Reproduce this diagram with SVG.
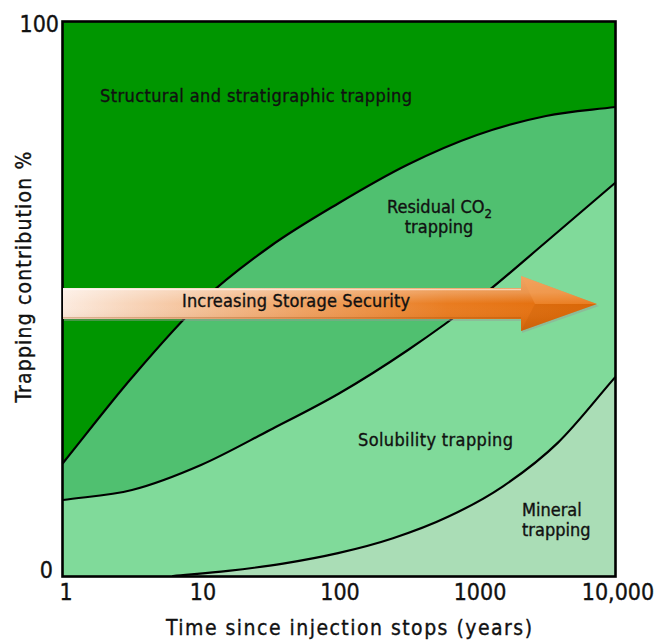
<svg xmlns="http://www.w3.org/2000/svg" width="655" height="641" viewBox="0 0 655 641">
  <style>
    .lbl { font-family: "DejaVu Sans Condensed", "DejaVu Sans", sans-serif; fill: #111; stroke: #111; stroke-width: 0.35; }
    .area-label { font-size: 18px; }
    .tick { font-size: 23px; }
    .title { font-size: 21px; }
    .boundary { fill: none; stroke: #000; stroke-width: 2.2; stroke-linecap: round; stroke-linejoin: round; }
  </style>
  <defs>
    <linearGradient id="arrowFill" x1="63" y1="0" x2="597" y2="0" gradientUnits="userSpaceOnUse">
      <stop offset="0" stop-color="#fcebdf"/>
      <stop offset="0.12" stop-color="#f8d6bc"/>
      <stop offset="0.45" stop-color="#f0a262"/>
      <stop offset="0.72" stop-color="#e97c20"/>
      <stop offset="1" stop-color="#e26a06"/>
    </linearGradient>
    <linearGradient id="arrowBevel" x1="0" y1="276" x2="0" y2="331" gradientUnits="userSpaceOnUse">
      <stop offset="0" stop-color="#fff" stop-opacity="0.35"/>
      <stop offset="0.3" stop-color="#fff" stop-opacity="0.25"/>
      <stop offset="0.5" stop-color="#fff" stop-opacity="0"/>
      <stop offset="0.8" stop-color="#8a3d00" stop-opacity="0.08"/>
      <stop offset="1" stop-color="#8a3d00" stop-opacity="0.25"/>
    </linearGradient>
  </defs>

  <!-- stacked trapping areas -->
  <g id="region-structural">
    <rect x="63" y="22" width="552" height="554" fill="#009600"/>
  </g>
  <g id="region-residual">
    <path fill="#50c070" d="M63,463 C86,434.5 109,404.3 132,377.5 C155,350.7 178,323.8 201,302 C224,280.2 247,263 270,246.5 C293,230 316,216.7 339,203 C362,189.3 385,175.8 408,164.5 C431,153.2 454,143.1 477,135 C500,126.9 523,120.7 546,116 C569,111.3 592,110 615,107 L615,576 L63,576 Z"/>
  </g>
  <g id="region-solubility">
    <path fill="#80da9a" d="M63,500 C86,496.7 109,495.8 132,490 C155,484.2 178,475 201,465 C224,455 247,441.9 270,430 C293,418.1 316,406.8 339,393.5 C362,380.2 385,365.6 408,350 C431,334.4 454,318 477,300 C500,282 523,261.5 546,242 C569,222.5 592,202.7 615,183 L615,576 L63,576 Z"/>
  </g>
  <g id="region-mineral">
    <path fill="#aaddb6" d="M173,576 C191.3,574.3 209.7,573 228,570.9 C246.3,568.8 264.7,566.6 283,563.6 C301.3,560.6 319.7,557.3 338,553.1 C356.3,548.9 374.7,544.3 393,538.2 C411.3,532.2 429.7,525.5 448,516.8 C466.3,508.2 484.7,498.7 503,486.3 C521.3,473.9 539.3,460.8 558,442.6 C576.7,424.5 596,399.1 615,377.4 L615,576 Z"/>
  </g>

  <!-- boundary curves between the areas -->
  <g id="connectors">
    <path class="boundary" d="M63,463 C86,434.5 109,404.3 132,377.5 C155,350.7 178,323.8 201,302 C224,280.2 247,263 270,246.5 C293,230 316,216.7 339,203 C362,189.3 385,175.8 408,164.5 C431,153.2 454,143.1 477,135 C500,126.9 523,120.7 546,116 C569,111.3 592,110 615,107"/>
    <path class="boundary" d="M63,500 C86,496.7 109,495.8 132,490 C155,484.2 178,475 201,465 C224,455 247,441.9 270,430 C293,418.1 316,406.8 339,393.5 C362,380.2 385,365.6 408,350 C431,334.4 454,318 477,300 C500,282 523,261.5 546,242 C569,222.5 592,202.7 615,183"/>
    <path class="boundary" d="M173,576 C191.3,574.3 209.7,573 228,570.9 C246.3,568.8 264.7,566.6 283,563.6 C301.3,560.6 319.7,557.3 338,553.1 C356.3,548.9 374.7,544.3 393,538.2 C411.3,532.2 429.7,525.5 448,516.8 C466.3,508.2 484.7,498.7 503,486.3 C521.3,473.9 539.3,460.8 558,442.6 C576.7,424.5 596,399.1 615,377.4"/>
  </g>

  <!-- plot frame -->
  <g id="frame">
    <rect x="62.5" y="21.5" width="553" height="555" fill="none" stroke="#000" stroke-width="2.6"/>
  </g>

  <!-- area labels -->
  <g id="label-structural">
    <text class="lbl area-label" x="100" y="102" textLength="312">Structural and stratigraphic trapping</text>
  </g>
  <g id="label-residual">
    <text class="lbl area-label" x="387" y="213" font-size="17.5">Residual CO<tspan font-size="13" dy="5">2</tspan></text>
    <text class="lbl area-label" x="439" y="233" font-size="17.5" text-anchor="middle">trapping</text>
  </g>
  <g id="label-solubility">
    <text class="lbl area-label" x="358" y="446" textLength="155">Solubility trapping</text>
  </g>
  <g id="label-mineral">
    <text class="lbl area-label" x="522" y="516">Mineral</text>
    <text class="lbl area-label" x="522" y="536">trapping</text>
  </g>

  <!-- storage security arrow -->
  <g id="arrow-security">
    <path d="M64,290 L522,290 L522,278 L599,306 L522,333 L522,321 L64,321 Z" fill="#9a9a9a" opacity="0.45"/>
    <path d="M63,288 L521,288 L521,276 L597,304 L521,331 L521,319 L63,319 Z" fill="url(#arrowFill)"/>
    <path d="M63,288 L521,288 L521,276 L597,304 L521,331 L521,319 L63,319 Z" fill="url(#arrowBevel)"/>
    <path d="M63,289.5 L521,289.5" stroke="#fff" stroke-opacity="0.55" stroke-width="1.5"/>
    <path d="M63,317.8 L521,317.8" stroke="#a24b05" stroke-opacity="0.3" stroke-width="1.5"/>
    <path d="M521,276 L597,304 L535,304 Z" fill="#f8a455" opacity="0.35"/>
    <path d="M535,304 L597,304 L521,331 Z" fill="#b85400" opacity="0.2"/>
    <text class="lbl area-label" x="182" y="307" textLength="228">Increasing Storage Security</text>
  </g>

  <!-- axes: ticks and titles -->
  <g id="axis-y">
    <text class="lbl tick" x="59" y="32" text-anchor="end">100</text>
    <text class="lbl tick" x="53" y="578" text-anchor="end">0</text>
    <text class="lbl title" transform="translate(31,277) rotate(-90)" text-anchor="middle" textLength="251">Trapping contribution %</text>
  </g>
  <g id="axis-x">
    <text class="lbl tick" x="66" y="600" text-anchor="middle">1</text>
    <text class="lbl tick" x="203" y="600" text-anchor="middle">10</text>
    <text class="lbl tick" x="340" y="600" text-anchor="middle">100</text>
    <text class="lbl tick" x="480" y="600" text-anchor="middle">1000</text>
    <text class="lbl tick" x="618" y="600" text-anchor="middle">10,000</text>
    <text class="lbl title" x="349" y="635" text-anchor="middle" textLength="366">Time since injection stops (years)</text>
  </g>
</svg>
